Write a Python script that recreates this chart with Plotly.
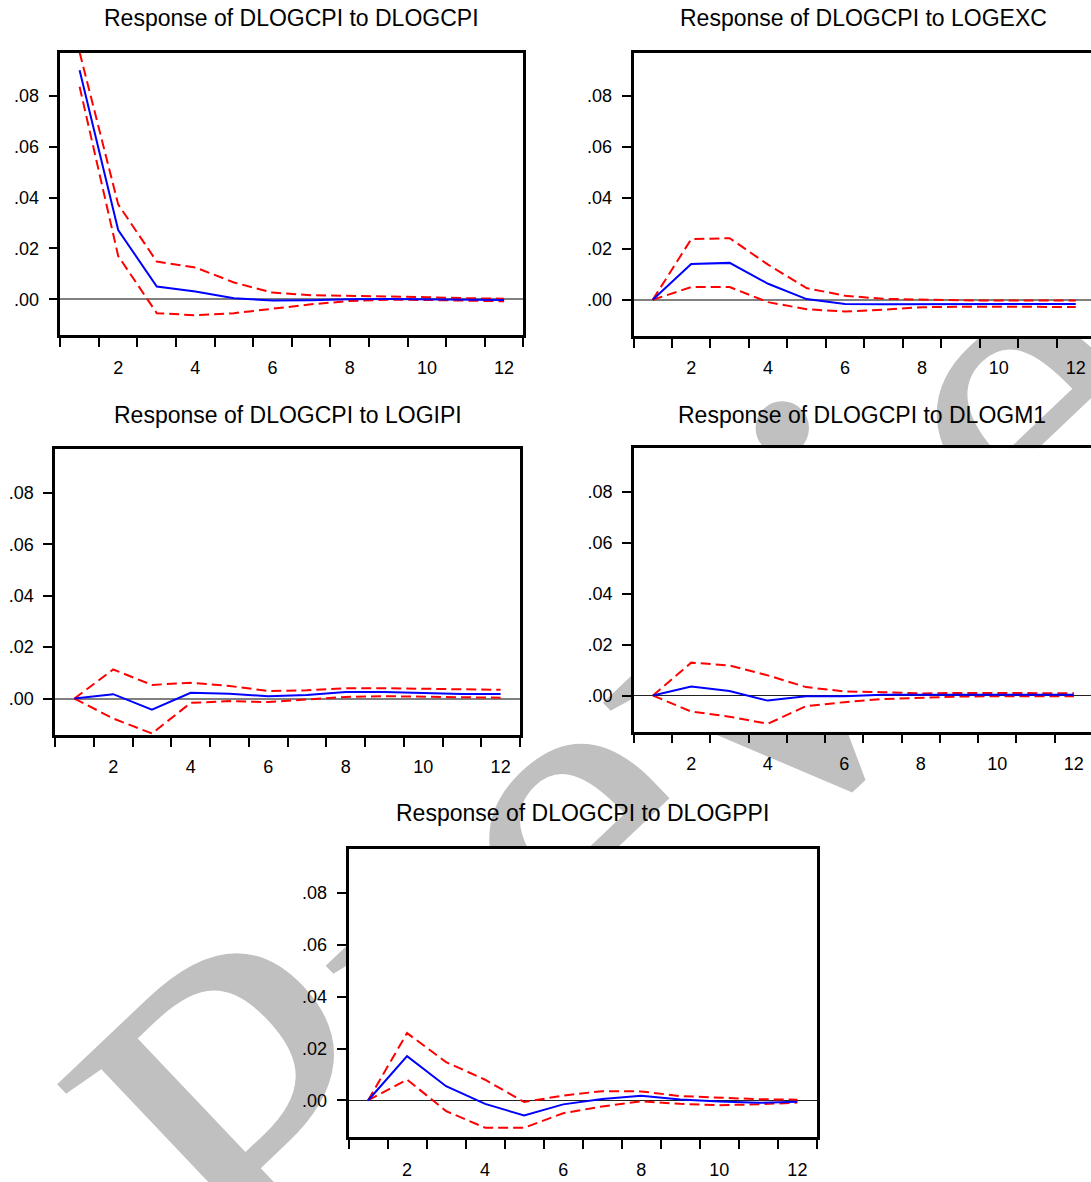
import plotly.graph_objects as go

W, H = 1091, 1182

periods = list(range(1, 13))
x_tick_labels = ["2", "4", "6", "8", "10", "12"]
x_tick_positions = [2, 4, 6, 8, 10, 12]
y_tick_values = [0.0, 0.02, 0.04, 0.06, 0.08]
y_tick_labels = [".00", ".02", ".04", ".06", ".08"]

titles = [
    "Response of DLOGCPI to DLOGCPI",
    "Response of DLOGCPI to LOGEXC",
    "Response of DLOGCPI to LOGIPI",
    "Response of DLOGCPI to DLOGM1",
    "Response of DLOGCPI to DLOGPPI",
]

# Impulse responses (blue) and +/- 2 S.E. bands (red dashed)
resp_cpi = [0.0901, 0.0272, 0.0050, 0.0030, 0.0004, -0.0005, -0.0004, 0.0000, 0.0001, 0.0000, -0.0002, -0.0003]
upper_cpi = [0.0972, 0.0373, 0.0148, 0.0125, 0.0066, 0.0026, 0.0016, 0.0014, 0.0011, 0.0008, 0.0004, 0.0002]
lower_cpi = [0.0836, 0.0170, -0.0055, -0.0063, -0.0055, -0.0037, -0.0020, -0.0007, -0.0002, -0.0003, -0.0007, -0.0008]

resp_exc = [0.0, 0.0141, 0.0145, 0.0063, 0.0003, -0.0016, -0.0017, -0.0016, -0.0016, -0.0016, -0.0016, -0.0016]
upper_exc = [0.0, 0.0238, 0.0242, 0.0138, 0.0046, 0.0016, 0.0004, 0.0000, -0.0002, -0.0003, -0.0003, -0.0003]
lower_exc = [0.0, 0.0050, 0.0050, -0.0009, -0.0037, -0.0046, -0.0039, -0.0029, -0.0027, -0.0027, -0.0027, -0.0028]

resp_ipi = [0.0, 0.0017, -0.0043, 0.0022, 0.0019, 0.0009, 0.0014, 0.0025, 0.0025, 0.0021, 0.0018, 0.0018]
upper_ipi = [0.0, 0.0113, 0.0053, 0.0061, 0.0049, 0.0029, 0.0032, 0.0040, 0.0040, 0.0038, 0.0035, 0.0034]
lower_ipi = [0.0, -0.0078, -0.0136, -0.0017, -0.0010, -0.0014, -0.0004, 0.0006, 0.0009, 0.0006, 0.0005, 0.0003]

resp_m1 = [0.0, 0.0035, 0.0018, -0.0020, -0.0003, -0.0003, 0.0003, 0.0003, 0.0004, 0.0004, 0.0004, 0.0003]
upper_m1 = [0.0, 0.0129, 0.0118, 0.0079, 0.0033, 0.0016, 0.0013, 0.0008, 0.0010, 0.0010, 0.0010, 0.0009]
lower_m1 = [0.0, -0.0063, -0.0083, -0.0111, -0.0042, -0.0026, -0.0014, -0.0008, -0.0004, -0.0003, -0.0003, -0.0003]

resp_ppi = [0.0, 0.0171, 0.0055, -0.0013, -0.0058, -0.0015, 0.0006, 0.0018, 0.0004, -0.0004, -0.0009, -0.0005]
upper_ppi = [0.0, 0.0260, 0.0148, 0.0080, -0.0006, 0.0019, 0.0036, 0.0035, 0.0017, 0.0010, 0.0005, 0.0003]
lower_ppi = [0.0, 0.0081, -0.0041, -0.0105, -0.0105, -0.0049, -0.0023, -0.0003, -0.0013, -0.0018, -0.0015, -0.0008]

series = [
    (resp_cpi, upper_cpi, lower_cpi),
    (resp_exc, upper_exc, lower_exc),
    (resp_ipi, upper_ipi, lower_ipi),
    (resp_m1, upper_m1, lower_m1),
    (resp_ppi, upper_ppi, lower_ppi),
]

# layout boxes in pixels: left, right, top, bottom, x-range end, mirror right, title center, zero line style
boxes = [
    dict(l=60.3, r=523.4, t=52.7, b=335.3, xend=12.5, mirror=True, tx=291.8, ty=18.3, zc="#808080", zw=1.5),
    dict(l=633.5, r=1091, t=52.7, b=336.0, xend=12.396, mirror=False, tx=863.5, ty=18.3, zc="#808080", zw=1.5),
    dict(l=55.1, r=520.0, t=449.3, b=735.0, xend=12.5, mirror=True, tx=287.5, ty=415.0, zc="#808080", zw=1.5),
    dict(l=633.8, r=1091, t=448.3, b=731.7, xend=12.448, mirror=False, tx=862.0, ty=415.0, zc="#222222", zw=1.0),
    dict(l=348.5, r=816.9, t=849.0, b=1137.3, xend=12.5, mirror=True, tx=582.7, ty=813.3, zc="#222222", zw=1.0),
]

Y_RANGE = [-0.0142, 0.0970]
FONT = "Liberation Sans, Arial, sans-serif"

# "Preview" watermark: lies on the page behind the (opaque) plot boxes
WM_TEXT = "Preview"
WM_SIZE = 505
WM_ANGLE = 43.5
WM_CX, WM_CY = 757, 641

fig = go.Figure()
layout = dict(
    width=W, height=H,
    margin=dict(l=0, r=0, t=0, b=0),
    paper_bgcolor="white", plot_bgcolor="white",
    showlegend=False,
    font=dict(family=FONT, color="black", size=18),
    annotations=[], shapes=[],
    # full-page background subplot that carries the watermark
    xaxis=dict(domain=[0, 1], range=[0, 1], visible=False, fixedrange=True),
    yaxis=dict(domain=[0, 1], range=[0, 1], visible=False, fixedrange=True),
    bargap=0,
)

fig.add_trace(go.Bar(
    x=[WM_CX / W], y=[0.06], base=[1 - WM_CY / H - 0.03], width=[0.06],
    xaxis="x", yaxis="y",
    marker=dict(color="rgba(0,0,0,0)", line=dict(width=0)),
    text=[WM_TEXT], textposition="inside", insidetextanchor="middle",
    textangle=-WM_ANGLE, constraintext="none", cliponaxis=False,
    textfont=dict(family="Liberation Serif, Times New Roman, serif", size=WM_SIZE, color="#C0C0C0"),
    insidetextfont=dict(family="Liberation Serif, Times New Roman, serif", size=WM_SIZE, color="#C0C0C0"),
    hoverinfo="skip",
))

for i, (box, (resp, up, lo), title) in enumerate(zip(boxes, series, titles)):
    n = str(i + 2)
    xa, ya = "x" + n, "y" + n
    # opaque white plot box that hides the watermark
    layout["shapes"].append(dict(
        type="rect", xref=xa, yref=ya, x0=0.5, x1=box["xend"], y0=Y_RANGE[0], y1=Y_RANGE[1],
        fillcolor="white", line=dict(width=0), layer="below",
    ))
    fig.add_trace(go.Scatter(x=periods, y=up, xaxis=xa, yaxis=ya, mode="lines",
                             line=dict(color="#FF0000", width=2, dash="10px,5px"), hoverinfo="skip"))
    fig.add_trace(go.Scatter(x=periods, y=lo, xaxis=xa, yaxis=ya, mode="lines",
                             line=dict(color="#FF0000", width=2, dash="10px,5px"), hoverinfo="skip"))
    fig.add_trace(go.Scatter(x=periods, y=resp, xaxis=xa, yaxis=ya, mode="lines",
                             line=dict(color="#0000FF", width=2), hoverinfo="skip"))
    layout["xaxis" + n] = dict(
        domain=[box["l"] / W, box["r"] / W], anchor=ya,
        range=[0.5, box["xend"]], showgrid=False, zeroline=False,
        showline=True, linecolor="black", linewidth=2.5, mirror=True,
        tickmode="array", tickvals=x_tick_positions, ticktext=x_tick_labels,
        ticks="", ticklabelstandoff=14,
        tickfont=dict(family=FONT, size=18, color="black"),
        minor=dict(tickmode="array", tickvals=[p + 0.5 for p in [0] + periods],
                   ticks="outside", ticklen=9, tickwidth=2, tickcolor="black", showgrid=False),
        fixedrange=True,
    )
    layout["yaxis" + n] = dict(
        domain=[1 - box["b"] / H, 1 - box["t"] / H], anchor=xa,
        range=Y_RANGE, showgrid=False,
        zeroline=True, zerolinecolor=box["zc"], zerolinewidth=box["zw"],
        showline=True, linecolor="black", linewidth=2.5, mirror=box["mirror"],
        tickmode="array", tickvals=y_tick_values, ticktext=y_tick_labels,
        ticks="outside", ticklen=9, tickwidth=2, tickcolor="black",
        ticklabelstandoff=6,
        tickfont=dict(family=FONT, size=18, color="black"),
        fixedrange=True,
    )
    layout["annotations"].append(dict(
        text=title, xref="paper", yref="paper", x=box["tx"] / W, y=1 - box["ty"] / H,
        xanchor="center", yanchor="middle", showarrow=False,
        font=dict(family=FONT, size=23, color="black"),
    ))

fig.update_layout(**layout)
fig.write_html("out.html", config={"displayModeBar": False})
